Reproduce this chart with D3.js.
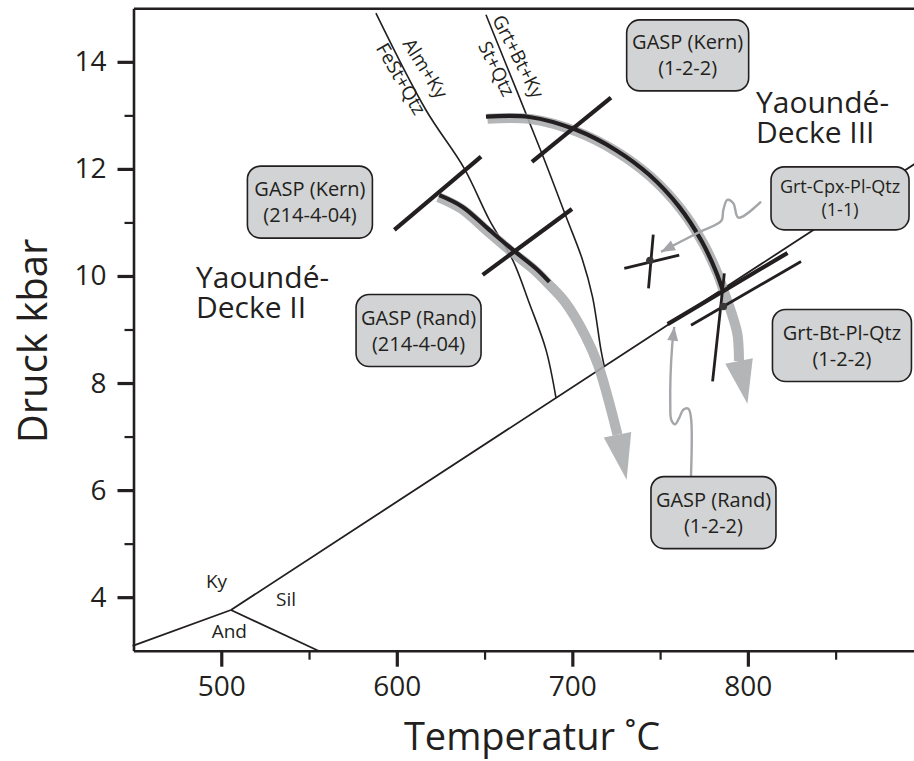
<!DOCTYPE html>
<html><head><meta charset="utf-8">
<script src="https://cdn.jsdelivr.net/npm/d3@7"></script>
<style>
html,body{margin:0;padding:0;background:#fff;}
svg{display:block;font-family:"Open Sans",sans-serif;}
</style></head><body>
<svg id="chart" width="914" height="761"></svg>
<script>
// ---------- data (temperature °C, pressure kbar) ----------
const xMajorTicks = [500, 600, 700, 800];
const xMinorTicks = [550, 650, 750, 850];
const yMajorTicks = [4, 6, 8, 10, 12, 14];
const yMinorTicks = [5, 7, 9, 11, 13];
const xTitle = "Temperatur ˚C";
const yTitle = "Druck kbar";

const kySil  = [[505.5, 3.76], [900, 12.2]];
const andKy  = [[449.5, 3.09], [505.5, 3.76]];
const andSil = [[505.5, 3.76], [555.3, 3.0]];
const phaseLabels = [["Ky", 497.3, 4.29], ["Sil", 536.9, 3.95], ["And", 504.6, 3.37]];

const almKyLine = [[588.1,14.91],[616.6,13.10],[638.4,12.01],[652.7,11.05],[666.0,10.30],[675.5,9.49],[685.0,8.62],[690.7,7.72]];
const grtBtLine = [[650.8,14.88],[683.0,12.26],[696.4,11.11],[705.8,10.30],[711.5,9.61],[716.3,8.62],[718.2,8.31]];
const reactionLabels = [
  ["Alm+Ky", 616.2, 13.88, 58],
  ["FeSt+Qtz", 602.4, 13.68, 60],
  ["Grt+Bt+Ky", 669.2, 14.10, 63],
  ["St+Qtz", 656.8, 13.87, 64]
];

// P-T path Yaoundé-Decke II (214-4-04)
const pathIIBlack = [[624.2,11.51],[637.5,11.29],[652.7,10.86],[666.0,10.49],[679.3,10.14],[686.9,9.89]];
const pathIIGrayTail = [[696.4,9.55],[707.8,8.93],[715.3,8.37],[721.0,7.74],[726.3,7.07]];
const pathIITip = [731.5, 6.23];
// P-T path Yaoundé-Decke III (1-2-2)
const pathIIIBlack = [[650.8,12.975],[675.5,12.97],[702.1,12.73],[724.9,12.35],[743.8,11.89],[760.9,11.29],[774.0,10.63],[782.0,10.07],[786.0,9.70]];
const pathIIIGrayTail = [[790.0,9.33],[793.2,8.95],[794.1,8.45]];
const pathIIITip = [798.9, 7.65];

// thermobarometer bars
const thickBars = [
  [[598.6,10.86],[648.0,12.23]],
  [[648.9,10.02],[699.8,11.25]],
  [[677.0,12.13],[722.0,13.33]],
  [[754.3,9.10],[822.6,10.43]]
];
const thinBars = [
  [[767.6,9.08],[830.3,10.27]],
  [[786.6,10.05],[779.9,8.03]],
  [[729.6,10.14],[760.9,10.39]],
  [[746.1,10.77],[743.4,9.77]]
];
const dots = [[786.0, 9.43], [744.2, 10.29]];

// pointer arrows (last point = arrow tip)
const pointerCpx = [[807.5,11.39],[794.6,11.09],[791.7,11.36],[788.3,11.42],[786.0,11.23],[784.9,11.03],[772.3,10.82],[750.5,10.45]];
const pointerRand = [[767.6,6.26],[767.6,7.35],[766.1,7.52],[763.2,7.50],[760.9,7.35],[758.6,7.23],[756.4,7.31],[755.8,7.59],[756.9,8.71],[758.1,9.05]];

// label boxes
const boxLines = [
  ["GASP (Kern)", "(214-4-04)"],
  ["GASP (Kern)", "(1-2-2)"],
  ["GASP (Rand)", "(214-4-04)"],
  ["Grt-Cpx-Pl-Qtz", "(1-1)"],
  ["Grt-Bt-Pl-Qtz", "(1-2-2)"],
  ["GASP (Rand)", "(1-2-2)"]
];
const boxCenters = [[550.5,11.38],[765.7,14.12],[612.4,8.98],[852.5,11.45],[853.6,8.70],[780.4,5.58]];
const unitLabels = [[["Yaoundé-", "Decke II"], 485.6, 9.77], [["Yaoundé-", "Decke III"], 804.6, 13.04]];

// ---------- layout / style ----------
const boxSize = [[125,72],[122,71],[125,72],[138,63],[139,72],[125,72]];
const boxFont = [20,20,20,18,20,20];
const INK = "#231f20";
const GRAYPATH = "#a9abae";
const POINTER = "#a4a6a9";
const BOXFILL = "#d1d3d4";

const svg = d3.select("#chart");
const x = d3.scaleLinear().domain([450, 900]).range([133.5, 923.4]);
const y = d3.scaleLinear().domain([3, 15]).range([650.7, 8.3]);
const line = d3.line().x(d => x(d[0])).y(d => y(d[1]));
const smooth = d3.line().x(d => x(d[0])).y(d => y(d[1])).curve(d3.curveCatmullRom.alpha(0.5));

// ---------- axes ----------
const gx = svg.append("g").attr("transform", `translate(0,${y(3)})`)
  .call(d3.axisBottom(x).tickValues(xMajorTicks).tickSize(16).tickSizeOuter(0).tickPadding(9).tickFormat(d3.format("d")));
gx.select(".domain").attr("stroke", INK).attr("stroke-width", 2.6);
gx.selectAll(".tick line").attr("stroke", INK).attr("stroke-width", 3.2);
gx.selectAll(".tick text").attr("fill", INK).attr("font-size", 28).attr("font-family", "Open Sans").attr("dy", "0.71em");
const gxm = svg.append("g").attr("transform", `translate(0,${y(3)})`)
  .call(d3.axisBottom(x).tickValues(xMinorTicks).tickSize(9).tickSizeOuter(0).tickFormat(""));
gxm.select(".domain").remove();
gxm.selectAll(".tick line").attr("stroke", INK).attr("stroke-width", 2.2);

const gy = svg.append("g").attr("transform", `translate(${x(450)},0)`)
  .call(d3.axisLeft(y).tickValues(yMajorTicks).tickSize(16).tickSizeOuter(0).tickPadding(11).tickFormat(d3.format("d")));
gy.select(".domain").attr("stroke", INK).attr("stroke-width", 2.6);
gy.selectAll(".tick line").attr("stroke", INK).attr("stroke-width", 3.2);
gy.selectAll(".tick text").attr("fill", INK).attr("font-size", 28).attr("font-family", "Open Sans");
const gym = svg.append("g").attr("transform", `translate(${x(450)},0)`)
  .call(d3.axisLeft(y).tickValues(yMinorTicks).tickSize(9).tickSizeOuter(0).tickFormat(""));
gym.select(".domain").remove();
gym.selectAll(".tick line").attr("stroke", INK).attr("stroke-width", 2.2);

const gt = svg.append("g").attr("transform", `translate(0,${y(15)})`)
  .call(d3.axisTop(x).tickValues([]).tickSizeOuter(0));
gt.select(".domain").attr("stroke", INK).attr("stroke-width", 2.6);

svg.append("text").attr("x", 532).attr("y", 750).attr("text-anchor", "middle")
  .attr("font-size", 38).attr("fill", INK).text(xTitle);
svg.append("text").attr("transform", "translate(47,341) rotate(-90)").attr("text-anchor", "middle")
  .attr("font-size", 40).attr("fill", INK).text(yTitle);

// ---------- phase diagram lines ----------
const thin = svg.append("g").attr("fill", "none").attr("stroke", INK);
[kySil, andKy, andSil].forEach(d => thin.append("path").attr("d", line(d)).attr("stroke-width", 1.8));
[almKyLine, grtBtLine].forEach(d => thin.append("path").attr("d", smooth(d)).attr("stroke-width", 1.6));

svg.append("g").selectAll("text").data(phaseLabels).join("text")
  .attr("x", d => x(d[1])).attr("y", d => y(d[2])).attr("text-anchor", "middle").attr("dy", "0.35em")
  .attr("font-size", 19).attr("fill", INK).text(d => d[0]);

svg.append("g").selectAll("text").data(reactionLabels).join("text")
  .attr("transform", d => `translate(${x(d[1])},${y(d[2])}) rotate(${d[3]})`)
  .attr("text-anchor", "middle").attr("dy", "0.35em")
  .attr("font-size", 19).attr("fill", INK).text(d => d[0]);

// ---------- P-T paths ----------
function arrowHead(base, tip, half) {
  const bx = x(base[0]), by = y(base[1]), tx = x(tip[0]), ty = y(tip[1]);
  const dx = tx - bx, dy = ty - by, L = Math.hypot(dx, dy);
  const nx = -dy / L * half, ny = dx / L * half;
  return `M${bx + nx},${by + ny}L${tx},${ty}L${bx - nx},${by - ny}Z`;
}
function smallHead(prev, tip, len, half) {
  const px = x(prev[0]), py = y(prev[1]), tx = x(tip[0]), ty = y(tip[1]);
  const dx = tx - px, dy = ty - py, L = Math.hypot(dx, dy);
  const ux = dx / L, uy = dy / L;
  const bx = tx - ux * len, by = ty - uy * len;
  return `M${bx - uy * half},${by + ux * half}L${tx},${ty}L${bx + uy * half},${by - ux * half}Z`;
}
const gp = svg.append("g").attr("opacity", 0.88);
const grayII = pathIIBlack.concat(pathIIGrayTail);
gp.append("path").attr("d", smooth(grayII)).attr("fill", "none").attr("stroke", GRAYPATH)
  .attr("stroke-width", 10).attr("transform", "translate(-1,2)");
gp.append("path").attr("d", arrowHead(grayII[grayII.length - 1], pathIITip, 14))
  .attr("fill", GRAYPATH).attr("transform", "translate(-1,2)");
const grayIII = pathIIIBlack.concat(pathIIIGrayTail);
gp.append("path").attr("d", smooth(grayIII)).attr("fill", "none").attr("stroke", GRAYPATH)
  .attr("stroke-width", 10).attr("transform", "translate(1.5,2)");
gp.append("path").attr("d", arrowHead(grayIII[grayIII.length - 1], pathIIITip, 14))
  .attr("fill", GRAYPATH).attr("transform", "translate(1.5,2)");

[pathIIBlack, pathIIIBlack].forEach(d => svg.append("path").attr("d", smooth(d))
  .attr("fill", "none").attr("stroke", INK).attr("stroke-width", 4.2));

thickBars.forEach(d => svg.append("path").attr("d", line(d)).attr("stroke", INK).attr("stroke-width", 4.2));
thinBars.forEach(d => svg.append("path").attr("d", line(d)).attr("stroke", INK).attr("stroke-width", 2.8));
svg.append("g").selectAll("circle").data(dots).join("circle")
  .attr("cx", d => x(d[0])).attr("cy", d => y(d[1])).attr("r", 3.8).attr("fill", "#3a3536");

// ---------- pointer arrows ----------
[pointerCpx, pointerRand].forEach(d => {
  const n = d.length;
  // shorten the line a bit so it ends inside the head
  const tx = x(d[n - 1][0]), ty = y(d[n - 1][1]);
  svg.append("path").attr("d", smooth(d)).attr("fill", "none").attr("stroke", POINTER).attr("stroke-width", 2.4);
  svg.append("path").attr("d", smallHead(d[n - 2], d[n - 1], 14, 5.5)).attr("fill", POINTER);
});

// ---------- boxes ----------
boxCenters.forEach((c, i) => {
  const [w, h] = boxSize[i];
  const cx = x(c[0]), cy = y(c[1]);
  const g = svg.append("g");
  g.append("rect").attr("x", cx - w / 2).attr("y", cy - h / 2).attr("width", w).attr("height", h)
    .attr("rx", 13).attr("fill", BOXFILL).attr("stroke", INK).attr("stroke-width", 1.6);
  const fs = boxFont[i], gap = fs * 1.3 / 2;
  boxLines[i].forEach((t, j) => g.append("text").attr("x", cx).attr("y", cy + (j === 0 ? -gap : gap))
    .attr("dy", "0.35em").attr("text-anchor", "middle").attr("font-size", fs).attr("fill", INK).text(t));
});

// unit labels (two-line text)
unitLabels.forEach(u => {
  const t = svg.append("text").attr("x", x(u[1])).attr("y", y(u[2])).attr("font-size", 30).attr("fill", INK);
  u[0].forEach((s, j) => t.append("tspan").attr("x", x(u[1])).attr("dy", j === 0 ? 0 : 30).text(s));
});
</script>
</body></html>
